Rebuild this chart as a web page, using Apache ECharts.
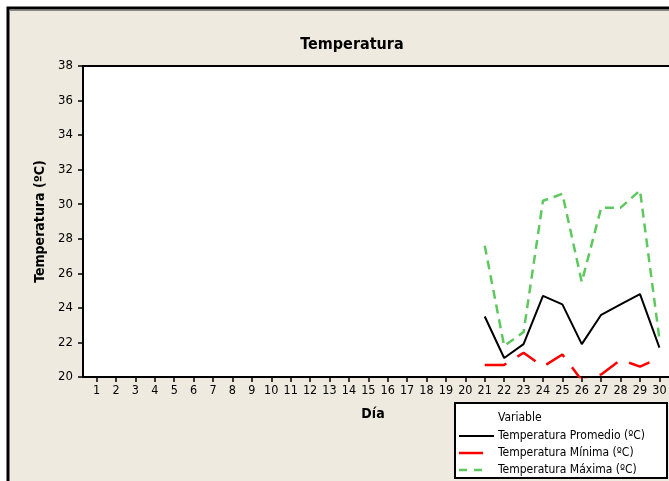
<!DOCTYPE html>
<html>
<head>
<meta charset="utf-8">
<script src="https://cdn.jsdelivr.net/npm/echarts@6/dist/echarts.min.js"></script>
<style>
html,body{margin:0;padding:0;background:#fff;overflow:hidden;width:669px;height:481px;}
#c{width:720px;height:481px;}
</style>
</head>
<body>
<div id="c"></div>
<script>
var days = [1,2,3,4,5,6,7,8,9,10,11,12,13,14,15,16,17,18,19,20,21,22,23,24,25,26,27,28,29,30];
var yTicks = [20,22,24,26,28,30,32,34,36,38];
var promedio = [null,null,null,null,null,null,null,null,null,null,null,null,null,null,null,null,null,null,null,null,
  23.5, 21.1, 21.9, 24.7, 24.2, 21.9, 23.6, 24.2, 24.8, 21.7];
var minima = [null,null,null,null,null,null,null,null,null,null,null,null,null,null,null,null,null,null,null,null,
  20.7, 20.7, 21.4, 20.6, 21.3, 19.8, 20.15, 21.0, 20.6, 21.1];
var maxima = [null,null,null,null,null,null,null,null,null,null,null,null,null,null,null,null,null,null,null,null,
  27.6, 21.8, 22.6, 30.2, 30.6, 25.5, 29.8, 29.8, 30.8, 22.2];
var names = ['Temperatura Promedio (ºC)', 'Temperatura Mínima (ºC)', 'Temperatura Máxima (ºC)'];

function pairs(vals){ return days.map(function(d,i){ return [d, vals[i]]; }); }

var FONT = '"DejaVu Sans Condensed","Liberation Sans",sans-serif';
var RED = '#ff0000', GREEN = '#5DC85D';
var chart = echarts.init(document.getElementById('c'), null, {renderer:'canvas'});

var legendRows = [
  {y:436, color:'#000', width:2, dash:null, x2:494},
  {y:453, color:RED, width:2.5, dash:null, x2:483},
  {y:470, color:GREEN, width:2.5, dash:[8,7], x2:482}
];
var graphics = [
  {type:'rect', z:-100, shape:{x:8,y:8,width:900,height:900},
   style:{fill:'#EEEADF', stroke:'#000', lineWidth:3}},
  {type:'line', z:-99, shape:{x1:9,y1:10.5,x2:900,y2:10.5}, style:{stroke:'#888',lineWidth:1}},
  {type:'text', z:5, x:373, y:414, style:{text:'Día', fontSize:14, fontWeight:'bold', fill:'#000',
    fontFamily:FONT, align:'center', verticalAlign:'middle'}},
  {type:'rect', z:3, shape:{x:455,y:403,width:212,height:75}, style:{fill:'#fff', stroke:'#000', lineWidth:2}},
  {type:'text', z:5, x:498, y:418, style:{text:'Variable', fontSize:12, fill:'#000',
    fontFamily:FONT, verticalAlign:'middle'}}
];
legendRows.forEach(function(r, i){
  graphics.push({type:'line', z:5, shape:{x1:459,y1:r.y,x2:r.x2,y2:r.y},
    style:{stroke:r.color, lineWidth:r.width, lineDash:r.dash}});
  graphics.push({type:'text', z:5, x:498, y:r.y, style:{text:names[i], fontSize:12, fill:'#000',
    fontFamily:FONT, verticalAlign:'middle'}});
});

chart.setOption({
  animation:false,
  backgroundColor:'#ffffff',
  title:{text:'Temperatura', left:347, top:32, textAlign:'center',
    textStyle:{fontSize:16, fontWeight:'bold', color:'#000', fontFamily:FONT}},
  graphic:graphics,
  legend:{show:false, data:names},
  grid:{left:83, top:66, width:590, height:311, show:true, backgroundColor:'#fff', borderColor:'#000', borderWidth:2},
  xAxis:{type:'value', min:0.3, max:30.7,
    axisLine:{show:true, onZero:false, lineStyle:{color:'#000', width:2}},
    axisTick:{show:true, length:5, customValues:days, lineStyle:{color:'#000', width:1.5}},
    axisLabel:{customValues:days, color:'#000', fontSize:12.5, fontFamily:FONT, margin:7},
    splitLine:{show:false}},
  yAxis:{type:'value', min:20, max:38, interval:2,
    name:'Temperatura (ºC)', nameLocation:'middle', nameGap:36, nameRotate:90,
    nameTextStyle:{fontSize:14, fontWeight:'bold', color:'#000', fontFamily:FONT},
    axisLine:{show:true, lineStyle:{color:'#000', width:2}},
    axisTick:{show:true, length:5, lineStyle:{color:'#000', width:1.5}},
    axisLabel:{color:'#000', fontSize:13, fontFamily:FONT, margin:10,
      customValues:yTicks},
    splitLine:{show:false}},
  series:[
    {name:names[0], type:'line', data:pairs(promedio), symbol:'none', connectNulls:false,
      lineStyle:{color:'#000', width:2}, itemStyle:{color:'#000'}},
    {name:names[1], type:'line', data:pairs(minima), symbol:'none',
      lineStyle:{color:RED, width:2.5, type:[22,13]}, itemStyle:{color:RED}},
    {name:names[2], type:'line', data:pairs(maxima), symbol:'none',
      lineStyle:{color:GREEN, width:2.5, type:[9,6]}, itemStyle:{color:GREEN}}
  ]
});
</script>
</body>
</html>
